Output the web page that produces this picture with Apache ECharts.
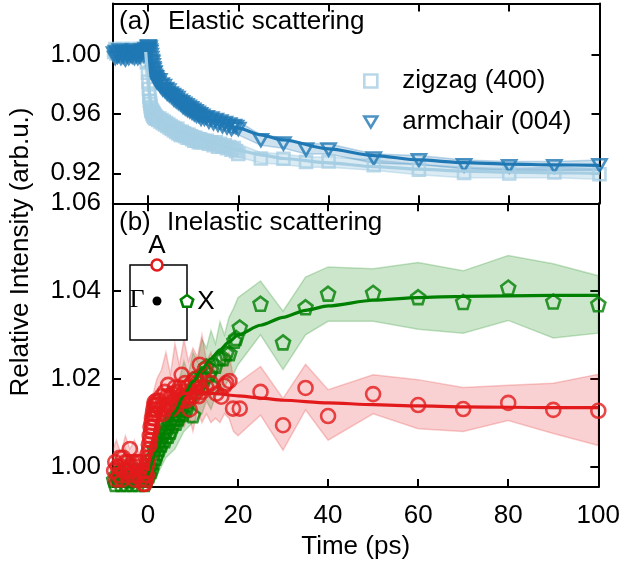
<!DOCTYPE html>
<html>
<head>
<meta charset="utf-8">
<script src="https://cdn.jsdelivr.net/npm/echarts@6/dist/echarts.min.js"></script>
<style>
  html, body { margin: 0; padding: 0; background: #fff; }
  #chart { width: 623px; height: 565px; }
</style>
</head>
<body>
<div id="chart"></div>
<script>
// ---- data ----
var timeTicks = [0, 20, 40, 60, 80, 100];
var topTicks = [0.92, 0.96, 1.00];
var bottomTicks = [1.00, 1.02, 1.04, 1.06];

// (a) elastic scattering: measured points
var topT = [-7.5,-7.25,-7,-6.75,-6.5,-6.25,-6,-5.75,-5.5,-5.25,-5,-4.75,-4.5,-4.25,-4,-3.75,-3.5,-3.25,-3,-2.75,-2.5,-2.25,-2,-1.75,-1.5,-1.25,-1,-0.75,-0.5,-0.25,
  0,0.1,0.2,0.3,0.4,0.5,0.6,0.7,0.8,0.9,1,1.1,1.2,1.3,1.4,1.5,1.6,1.7,1.8,1.9,2,
  2.25,2.5,2.75,3,3.25,3.5,3.75,4,4.25,4.5,4.75,5,5.25,5.5,5.75,6,6.25,6.5,6.75,7,7.25,7.5,7.75,8,8.25,8.5,8.75,9,9.25,9.5,9.75,10,10.25,10.5,10.75,11,11.25,11.5,11.75,12,
  12.5,13,13.5,14,14.5,15,15.5,16,16.5,17,17.5,18,18.5,19,19.5,20,
  25,30,35,40,50,60,70,80,90,100];
var armchairV = [1.001,0.998,1.002,0.999,1.000,1.003,0.998,1.001,0.999,1.002,0.997,1.000,1.001,0.998,1.002,1.000,0.999,1.003,0.998,1.001,1.000,0.998,1.002,0.999,1.001,1.003,1.000,1.002,1.004,1.003,
  1.005,1.006,1.004,1.005,1.003,1.002,1.000,0.998,0.996,0.995,0.993,0.991,0.990,0.988,0.988,0.986,0.985,0.985,0.984,0.982,0.983,
  0.981,0.983,0.979,0.980,0.977,0.979,0.976,0.977,0.974,0.976,0.973,0.974,0.972,0.973,0.970,0.972,0.969,0.971,0.968,0.969,0.967,0.968,0.965,0.967,0.964,0.966,0.963,0.965,0.962,0.964,0.961,0.963,0.960,0.962,0.959,0.961,0.959,0.960,0.957,0.959,
  0.957,0.958,0.955,0.957,0.954,0.956,0.953,0.955,0.952,0.954,0.951,0.953,0.950,0.952,0.9514,0.950,
  0.9424,0.9401,0.9361,0.9361,0.930,0.9288,0.9254,0.9247,0.9247,0.9254];
var zigzagV = [1.002,1.004,1.001,1.003,1.002,1.000,1.003,1.002,1.004,1.001,1.003,1.002,1.000,1.003,1.001,1.004,1.002,1.001,1.003,1.002,1.000,1.003,1.002,1.004,1.001,1.002,1.003,1.001,0.999,0.995,
  0.988,0.982,0.977,0.972,0.969,0.967,0.965,0.963,0.962,0.962,0.960,0.961,0.959,0.960,0.958,0.959,0.958,0.957,0.958,0.957,0.957,
  0.956,0.957,0.955,0.956,0.954,0.955,0.953,0.954,0.952,0.953,0.951,0.952,0.950,0.951,0.949,0.950,0.948,0.950,0.947,0.948,0.946,0.948,0.946,0.947,0.945,0.946,0.944,0.946,0.944,0.945,0.943,0.944,0.942,0.944,0.942,0.943,0.941,0.943,0.941,0.942,
  0.941,0.942,0.940,0.941,0.939,0.941,0.938,0.940,0.938,0.939,0.937,0.9378,0.936,0.937,0.935,0.933,
  0.930,0.9298,0.9277,0.928,0.9254,0.9225,0.9202,0.9198,0.9205,0.9193];
// (a) shaded bands: lower / upper edges
var topBandT = [-7.75,-4,-1,0,0.5,1,2,3,5,7,10,13,16,20,25,30,35,40,50,60,70,80,90,100];
var zigzagLo = [0.998,0.998,0.998,0.975,0.957,0.955,0.952,0.950,0.947,0.944,0.940,0.937,0.935,0.931,0.927,0.926,0.924,0.924,0.922,0.919,0.917,0.917,0.917,0.916];
var zigzagHi = [1.006,1.006,1.006,1.003,0.975,0.967,0.963,0.961,0.957,0.954,0.950,0.947,0.944,0.940,0.934,0.933,0.931,0.931,0.929,0.926,0.924,0.923,0.924,0.923];
var armchairLo = [0.996,0.995,0.997,1.000,0.996,0.989,0.978,0.973,0.967,0.962,0.957,0.953,0.950,0.946,0.939,0.937,0.933,0.933,0.927,0.926,0.923,0.922,0.922,0.922];
var armchairHi = [1.004,1.005,1.006,1.009,1.007,1.000,0.989,0.985,0.978,0.973,0.967,0.962,0.959,0.955,0.946,0.944,0.940,0.940,0.933,0.932,0.929,0.928,0.928,0.929];
// (a) fits
var armFitT = [0.5,1,1.5,2,3,5,7,10,15,20,25,30,40,50,60,70,80,90,100];
var armFitV = [1.002,0.994,0.988,0.984,0.979,0.972,0.967,0.961,0.955,0.9505,0.946,0.9425,0.9365,0.932,0.929,0.9272,0.9262,0.9257,0.9254];
var zigFitT = [-0.5,0,0.5,1,2,3,5,7,10,15,20,25,30,40,50,60,70,80,90,100];
var zigFitV = [1.002,0.985,0.970,0.962,0.958,0.956,0.952,0.949,0.945,0.940,0.9355,0.9325,0.930,0.927,0.9245,0.9228,0.9215,0.9208,0.9203,0.920];

// (b) inelastic scattering: measured points
var redT = [-7.5,-7.25,-7,-6.75,-6.5,-6.25,-6,-5.75,-5.5,-5.25,-5,-4.75,-4.5,-4.25,-4,-3.75,-3.5,-3.25,-3,-2.75,-2.5,-2.25,-2,-1.75,-1.5,-1.25,-1,
  -0.9,-0.8,-0.7,-0.6,-0.5,-0.4,-0.3,-0.2,-0.1,0,0.1,0.2,0.3,0.4,0.5,0.6,0.7,0.8,0.9,1,1.1,1.2,1.3,1.4,1.5,1.6,1.7,1.8,1.9,2,
  2.25,2.5,2.75,3,3.25,3.5,3.75,4,4.25,4.5,4.75,5,5.25,5.5,5.75,6,6.25,6.5,6.75,7,7.25,7.5,7.75,8,8.25,8.5,8.75,9,9.25,9.5,9.75,10,10.25,10.5,10.75,11,11.25,11.5,11.75,12,
  12.6,13,14,15.2,16.3,17,17.4,18.1,18.9,20.4,
  25,30,35,40,50,60,70,80,90,100];
var redV = [0.999,1.001,0.997,1.000,0.998,1.002,1.000,0.997,1.002,0.999,1.001,0.998,1.001,0.999,1.004,1.000,0.998,1.001,0.997,1.000,1.001,0.998,0.999,1.001,0.997,0.999,0.996,
  0.995,0.998,0.996,0.999,0.995,0.997,1.000,0.998,1.001,1.003,1.002,1.005,1.004,1.007,1.006,1.009,1.008,1.010,1.011,1.009,1.012,1.013,1.011,1.014,1.0147,1.012,1.014,1.013,1.015,1.014,
  1.012,1.015,1.013,1.016,1.012,1.014,1.017,1.013,1.016,1.0186,1.014,1.016,1.013,1.0166,1.015,1.018,1.014,1.017,1.015,1.018,1.016,1.0209,1.015,1.017,1.019,1.015,1.018,1.016,1.013,1.017,1.019,1.016,1.018,1.020,1.017,1.019,1.016,1.0232,1.018,1.017,
  1.0221,1.018,1.019,1.0166,1.0159,1.0184,1.019,1.0195,1.0132,1.0132,
  1.017,1.0094,1.0179,1.0115,1.0165,1.014,1.0131,1.0145,1.0129,1.0127];
var greenT = [-7.5,-7.25,-7,-6.75,-6.5,-6.25,-6,-5.75,-5.5,-5.25,-5,-4.75,-4.5,-4.25,-4,-3.75,-3.5,-3.25,-3,-2.75,-2.5,-2.25,-2,-1.75,-1.5,-1.25,-1,-0.75,-0.5,-0.25,0,
  0.25,0.5,0.75,1,1.25,1.5,1.75,2,2.25,2.5,2.75,3,3.25,3.5,3.75,4,4.25,4.5,4.75,5,5.25,5.5,5.75,6,6.25,6.5,6.75,7,7.25,7.5,7.75,8,
  8.5,9,9.5,10,10.4,11,11.5,12,12.5,13,13.5,14,14.4,15,
  16,16.7,17.4,18.1,19.2,19.6,20.4,
  25,30,35,40,50,60,70,80,90,100];
var greenV = [0.997,0.996,0.998,0.995,0.997,0.999,0.996,0.998,0.997,0.995,0.998,0.996,0.999,0.997,0.9968,0.998,0.996,0.997,0.999,0.997,0.998,0.996,0.998,0.997,0.999,0.997,0.998,0.996,0.998,0.997,0.999,
  0.998,1.000,0.999,1.002,1.001,1.004,1.002,1.003,1.005,1.004,1.006,1.005,1.007,1.0078,1.006,1.008,1.009,1.007,1.010,1.008,1.011,1.0094,1.012,1.0109,1.010,1.013,1.011,1.012,1.014,1.013,1.012,1.0159,
  1.013,1.015,1.016,1.0117,1.020,1.018,1.019,1.021,1.020,1.0228,1.021,1.022,1.0182,1.023,
  1.0247,1.0247,1.0258,1.0258,1.0287,1.0293,1.0317,
  1.0371,1.0283,1.0363,1.0394,1.0396,1.0386,1.0375,1.0408,1.0376,1.037];
// (b) shaded bands: lower / upper edges
var botBandT = [-7.75,-7,-6,-5,-4,-3,-2,-1,0,1,2,3,4,5,6,7,8,9,10,11,12,13,14,15,16,17,18,19,20,25,30,35,40,50,60,70,80,90,100];
var redLo = [0.995,0.996,0.995,0.996,0.997,0.994,0.996,0.993,0.995,1.002,1.006,1.008,1.009,1.010,1.008,1.011,1.009,1.012,1.008,1.013,1.010,1.012,1.010,1.011,1.010,1.012,1.011,1.008,1.007,
  1.0117,1.0037,1.0129,1.006,1.012,1.0086,1.008,1.0105,1.0075,1.0048];
var redHi = [1.004,1.006,1.003,1.007,1.004,1.006,1.003,1.004,1.010,1.016,1.020,1.022,1.026,1.021,1.028,1.023,1.029,1.024,1.027,1.025,1.030,1.024,1.026,1.022,1.024,1.025,1.026,1.020,1.019,
  1.0228,1.0155,1.0233,1.0175,1.0209,1.0198,1.018,1.0185,1.019,1.021];
var greenLo = [0.994,0.994,0.993,0.994,0.993,0.994,0.993,0.994,0.995,0.997,0.998,1.000,1.002,1.003,1.004,1.006,1.008,1.009,1.010,1.011,1.012,1.015,1.013,1.016,1.017,1.018,1.020,1.021,1.0232,
  1.030,1.0221,1.030,1.0331,1.0331,1.0313,1.0304,1.0333,1.0293,1.0304];
var greenHi = [1.001,1.003,1.000,1.004,1.001,1.003,1.000,1.002,1.003,1.007,1.008,1.012,1.013,1.016,1.018,1.020,1.024,1.021,1.026,1.024,1.029,1.027,1.031,1.028,1.033,1.030,1.034,1.036,1.0385,
  1.0423,1.0354,1.0432,1.0455,1.0451,1.0465,1.0446,1.0481,1.0462,1.0435];
// (b) fits
var greenFitT = [0,2,4,6,8,10,12,14,16,18,20,25,30,35,40,50,60,70,80,90,100];
var greenFitV = [0.998,1.0035,1.0083,1.0125,1.0162,1.0194,1.0222,1.0246,1.0266,1.0284,1.030,1.0322,1.034,1.0356,1.0366,1.0379,1.0385,1.0388,1.0389,1.039,1.039];
var redFitT = [0,1,2,3,4,6,8,10,12,15,20,25,30,40,50,60,70,80,90,100];
var redFitV = [0.999,1.006,1.010,1.0125,1.014,1.0158,1.0166,1.0169,1.0169,1.0166,1.0161,1.0156,1.0151,1.0145,1.0141,1.0138,1.0136,1.0135,1.0134,1.0134];

// ---- styles ----
var FONT = '"Liberation Sans", Arial, sans-serif';
var LIGHT = '#a6cee3', DARK = '#1f78b4', RED = '#e31a1c', GREEN = '#008000';
var TRI_DOWN = 'path://M-1,-0.85 L1,-0.85 L0,0.85 Z';
var PENTA = 'path://M0,-1 L0.951,-0.309 L0.588,0.809 L-0.588,0.809 L-0.951,-0.309 Z';

function pairs(t, v) {
  return t.map(function (x, i) { return [x, v[i]]; });
}

// shaded band between lo and hi, drawn as one polygon
function band(t, lo, hi, fill, stroke, gi) {
  var data = t.map(function (x, i) { return [x, lo[i], hi[i]]; });
  return {
    type: 'custom', xAxisIndex: gi * 2, yAxisIndex: gi * 2, clip: true, silent: true, z: 1,
    data: data,
    encode: { x: 0, y: [1, 2] },
    renderItem: function (params, api) {
      if (params.dataIndex !== 0) return null;
      var up = data.map(function (d) { return api.coord([d[0], d[2]]); });
      var dn = data.map(function (d) { return api.coord([d[0], d[1]]); }).reverse();
      var cs = params.coordSys;
      return {
        type: 'polygon',
        shape: { points: up.concat(dn) },
        style: { fill: fill, stroke: stroke, lineWidth: 1.5 },
        clipPath: { type: 'rect', shape: { x: cs.x, y: cs.y, width: cs.width, height: cs.height } }
      };
    }
  };
}

function marks(name, t, v, symbol, size, color, gi) {
  return {
    type: 'scatter', name: name, xAxisIndex: gi * 2, yAxisIndex: gi * 2, z: 3,
    data: pairs(t, v), symbol: symbol, symbolSize: size,
    itemStyle: { color: 'rgba(0,0,0,0)', borderColor: color, borderWidth: 2.6 },
    emphasis: { disabled: true }
  };
}

function fit(t, v, color, gi) {
  return {
    type: 'line', xAxisIndex: gi * 2, yAxisIndex: gi * 2, z: 4,
    data: pairs(t, v), showSymbol: false, smooth: 0.25, smoothMonotone: 'x',
    lineStyle: { color: color, width: 3.2 }, silent: true
  };
}

function xAx(gi, pos, labels) {
  return {
    type: 'value', gridIndex: gi, position: pos, min: -7.75, max: 100,
    axisLine: { onZero: false, lineStyle: { color: '#000', width: 2 } },
    axisTick: { inside: true, length: 8, customValues: timeTicks, lineStyle: { color: '#000', width: 2 } },
    axisLabel: { show: labels, customValues: timeTicks, fontSize: 26, fontFamily: FONT, color: '#000', margin: 16 },
    splitLine: { show: false },
    name: labels ? 'Time (ps)' : '', nameLocation: 'middle', nameGap: 37,
    nameTextStyle: { fontSize: 26, fontFamily: FONT, color: '#000' }
  };
}

function yAx(gi, pos, min, max, ticks, labels) {
  return {
    type: 'value', gridIndex: gi, position: pos, min: min, max: max,
    axisLine: { onZero: false, lineStyle: { color: '#000', width: 2 } },
    axisTick: { inside: true, length: 8, customValues: ticks, lineStyle: { color: '#000', width: 2 } },
    axisLabel: {
      show: labels, customValues: ticks, fontSize: 26, fontFamily: FONT, color: '#000', margin: 12,
      showMinLabel: true, showMaxLabel: true,
      formatter: function (val) { return Number(val).toFixed(2); }
    },
    splitLine: { show: false }
  };
}

function txt(x, y, s, extra) {
  var style = { text: s, x: x, y: y, font: '26px ' + FONT, fill: '#000', verticalAlign: 'middle' };
  for (var k in extra) style[k] = extra[k];
  return { type: 'text', style: style, z: 10 };
}

var chart = echarts.init(document.getElementById('chart'), null, { renderer: 'canvas' });

var option = {
  animation: false,
  backgroundColor: '#fff',
  grid: [
    { left: 113, top: 3.5, width: 486.5, height: 199.8 },
    { left: 113, top: 203.3, width: 486.5, height: 284.7 }
  ],
  xAxis: [xAx(0, 'bottom', false), xAx(0, 'top', false), xAx(1, 'bottom', true), xAx(1, 'top', false)],
  yAxis: [
    yAx(0, 'left', 0.8997, 1.0348, topTicks, true),
    yAx(0, 'right', 0.8997, 1.0348, topTicks, false),
    yAx(1, 'left', 0.9953, 1.06, bottomTicks, true),
    yAx(1, 'right', 0.9953, 1.06, bottomTicks, false)
  ],
  legend: {
    orient: 'vertical', left: 358, top: 63, itemGap: 15, itemWidth: 13, itemHeight: 13,
    selectedMode: false,
    textStyle: { fontSize: 26, fontFamily: FONT, color: '#000', lineHeight: 26, padding: [0, 0, 0, 20] },
    data: [
      { name: 'zigzag (400)', icon: 'rect', itemStyle: { color: 'rgba(0,0,0,0)', borderColor: LIGHT, borderWidth: 2.6 } },
      { name: 'armchair (004)', icon: TRI_DOWN, itemStyle: { color: 'rgba(0,0,0,0)', borderColor: DARK, borderWidth: 2.6 } }
    ]
  },
  graphic: [
    txt(119, 22, '(a)'),
    txt(168, 22, 'Elastic scattering'),
    txt(119, 223, '(b)'),
    txt(167, 223, 'Inelastic scattering'),
    {
      type: 'text', x: 21, y: 252, rotation: Math.PI / 2, z: 10,
      style: { text: 'Relative Intensity (arb.u.)', x: 0, y: 0, font: '26px ' + FONT, fill: '#000', align: 'center', verticalAlign: 'middle' }
    },
    { type: 'rect', shape: { x: 130, y: 265, width: 57, height: 75 }, style: { fill: '#fff', stroke: '#000', lineWidth: 1.5 }, z: 9 },
    { type: 'circle', shape: { cx: 157, cy: 265, r: 5.5 }, style: { fill: '#fff', stroke: RED, lineWidth: 2.6 }, z: 10 },
    txt(157, 246, 'A', { align: 'center' }),
    { type: 'circle', shape: { cx: 157, cy: 301, r: 4.5 }, style: { fill: '#000' }, z: 10 },
    txt(137, 300, '\u0393', { align: 'center', font: '26px "Liberation Serif", "DejaVu Serif", serif' }),
    {
      type: 'polygon', z: 10,
      shape: { points: [0, 1, 2, 3, 4].map(function (k) {
        var a = -Math.PI / 2 + k * 2 * Math.PI / 5;
        return [187 + 6.5 * Math.cos(a), 301.5 + 6.5 * Math.sin(a)];
      }) },
      style: { fill: '#fff', stroke: GREEN, lineWidth: 2.6 }
    },
    txt(206, 302, 'X', { align: 'center' })
  ],
  series: [
    band(topBandT, zigzagLo, zigzagHi, 'rgba(166,206,227,0.4)', 'rgba(166,206,227,0.5)', 0),
    marks('zigzag (400)', topT, zigzagV, 'rect', 12, LIGHT, 0),
    fit(zigFitT, zigFitV, LIGHT, 0),
    band(topBandT, armchairLo, armchairHi, 'rgba(31,120,180,0.22)', 'rgba(31,120,180,0.28)', 0),
    marks('armchair (004)', topT, armchairV, TRI_DOWN, [14, 12], DARK, 0),
    fit(armFitT, armFitV, DARK, 0),

    band(botBandT, greenLo, greenHi, 'rgba(0,128,0,0.2)', 'rgba(0,128,0,0.22)', 1),
    band(botBandT, redLo, redHi, 'rgba(227,26,28,0.2)', 'rgba(227,26,28,0.22)', 1),
    marks('X', greenT, greenV, PENTA, 14, GREEN, 1),
    marks('A', redT, redV, 'circle', 14, RED, 1),
    fit(greenFitT, greenFitV, GREEN, 1),
    fit(redFitT, redFitV, RED, 1)
  ]
};

chart.setOption(option);
</script>
</body>
</html>
